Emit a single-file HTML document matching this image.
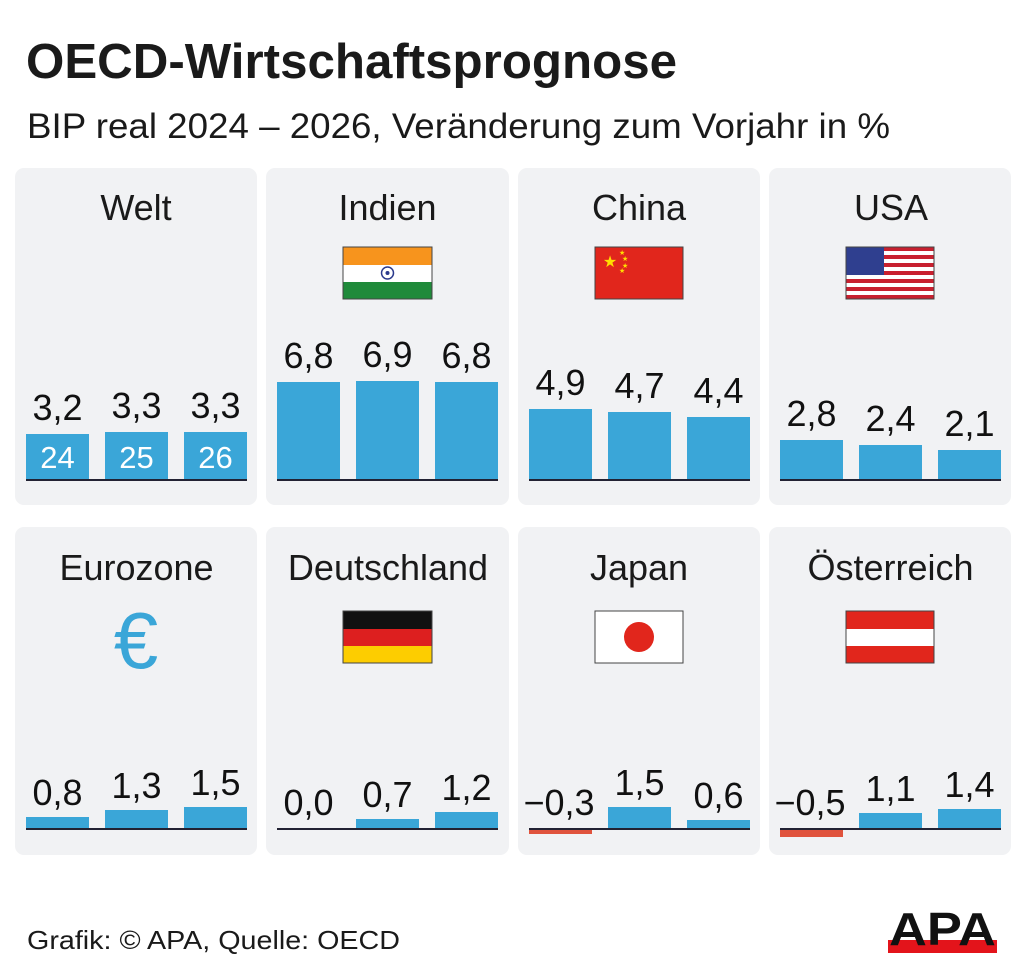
<!DOCTYPE html>
<html><head><meta charset="utf-8"><style>
html,body{margin:0;padding:0;background:#fff;}
svg{display:block;font-family:"Liberation Sans",Arial,sans-serif;}
</style></head><body>
<svg width="1024" height="979" viewBox="0 0 1024 979" xmlns="http://www.w3.org/2000/svg">
<rect width="1024" height="979" fill="#fff"/>
<text x="26" y="78" font-size="49" font-weight="bold" fill="#1a1a1a" textLength="651" lengthAdjust="spacingAndGlyphs">OECD-Wirtschaftsprognose</text>
<text x="27" y="138" font-size="35" fill="#1a1a1a" textLength="863" lengthAdjust="spacingAndGlyphs">BIP real 2024 – 2026, Veränderung zum Vorjahr in %</text>

<g fill="#f1f2f4">
<rect x="15" y="168" width="242" height="337" rx="9"/>
<rect x="266" y="168" width="243" height="337" rx="9"/>
<rect x="518" y="168" width="242" height="337" rx="9"/>
<rect x="769" y="168" width="242" height="337" rx="9"/>
<rect x="15" y="527" width="242" height="328" rx="9"/>
<rect x="266" y="527" width="243" height="328" rx="9"/>
<rect x="518" y="527" width="242" height="328" rx="9"/>
<rect x="769" y="527" width="242" height="328" rx="9"/>
</g>

<g font-size="36" fill="#1a1a1a" text-anchor="middle">
<text x="136" y="220">Welt</text>
<text x="387.5" y="220">Indien</text>
<text x="639" y="220">China</text>
<text x="891" y="220">USA</text>
<text x="136.5" y="580">Eurozone</text>
<text x="388" y="580">Deutschland</text>
<text x="639" y="580">Japan</text>
<text x="890.5" y="580">Österreich</text>
</g>

<g>
<rect x="343" y="247" width="89" height="18" fill="#f7941d"/>
<rect x="343" y="265" width="89" height="17" fill="#fff"/>
<rect x="343" y="282" width="89" height="17" fill="#1f8a3a"/>
<circle cx="387.5" cy="273" r="6" fill="none" stroke="#2b3a8c" stroke-width="1.5"/>
<circle cx="387.5" cy="273" r="2" fill="#2b3a8c"/>
<rect x="343" y="247" width="89" height="52" fill="none" stroke="#444" stroke-width="1"/>

<rect x="595" y="247" width="88" height="52" fill="#e1261c"/>
<text x="610" y="267" font-size="16" fill="#ffde00" text-anchor="middle">★</text>
<g font-size="7" fill="#ffde00"><text x="619" y="255">★</text><text x="622" y="261">★</text><text x="622" y="268">★</text><text x="619" y="273">★</text></g>
<rect x="595" y="247" width="88" height="52" fill="none" stroke="#444" stroke-width="1"/>

<g>
<rect x="846" y="247" width="88" height="52" fill="#fff"/>
<g fill="#c8202f">
<rect x="846" y="247" width="88" height="4"/><rect x="846" y="255" width="88" height="4"/><rect x="846" y="263" width="88" height="4"/><rect x="846" y="271" width="88" height="4"/><rect x="846" y="279" width="88" height="4"/><rect x="846" y="287" width="88" height="4"/><rect x="846" y="295" width="88" height="4"/>
</g>
<rect x="846" y="247" width="38" height="28" fill="#2f3f8f"/>
<rect x="846" y="247" width="88" height="52" fill="none" stroke="#444" stroke-width="1"/>
</g>

<text x="136" y="668" font-size="80" fill="#3aa6d8" text-anchor="middle">€</text>

<rect x="343" y="611" width="89" height="18" fill="#111"/>
<rect x="343" y="629" width="89" height="17" fill="#dd1f1f"/>
<rect x="343" y="646" width="89" height="17" fill="#fdcd00"/>
<rect x="343" y="611" width="89" height="52" fill="none" stroke="#444" stroke-width="1"/>

<rect x="595" y="611" width="88" height="52" fill="#fff" stroke="#444" stroke-width="1"/>
<circle cx="639" cy="637" r="15" fill="#e1261c"/>

<rect x="846" y="611" width="88" height="18" fill="#e1261c"/>
<rect x="846" y="629" width="88" height="17" fill="#fff"/>
<rect x="846" y="646" width="88" height="17" fill="#e1261c"/>
<rect x="846" y="611" width="88" height="52" fill="none" stroke="#444" stroke-width="1"/>
</g>

<g fill="#3aa6d8">
<rect x="26" y="434" width="63" height="46"/><rect x="105" y="432" width="63" height="48"/><rect x="184" y="432" width="63" height="48"/>
<rect x="277" y="382" width="63" height="98"/><rect x="356" y="381" width="63" height="99"/><rect x="435" y="382" width="63" height="98"/>
<rect x="529" y="409" width="63" height="71"/><rect x="608" y="412" width="63" height="68"/><rect x="687" y="417" width="63" height="63"/>
<rect x="780" y="440" width="63" height="40"/><rect x="859" y="445" width="63" height="35"/><rect x="938" y="450" width="63" height="30"/>
</g>
<g fill="#fff" font-size="31" text-anchor="middle">
<text x="57.5" y="468">24</text><text x="136.5" y="468">25</text><text x="215.5" y="468">26</text>
</g>
<g stroke="#223" stroke-width="2">
<line x1="26" y1="480" x2="247" y2="480"/><line x1="277" y1="480" x2="498" y2="480"/><line x1="529" y1="480" x2="750" y2="480"/><line x1="780" y1="480" x2="1001" y2="480"/>
</g>
<g font-size="36" fill="#111" text-anchor="middle">
<text x="57.5" y="420">3,2</text><text x="136.5" y="418">3,3</text><text x="215.5" y="418">3,3</text>
<text x="308.5" y="368">6,8</text><text x="387.5" y="367">6,9</text><text x="466.5" y="368">6,8</text>
<text x="560.5" y="395">4,9</text><text x="639.5" y="398">4,7</text><text x="718.5" y="403">4,4</text>
<text x="811.5" y="426">2,8</text><text x="890.5" y="431">2,4</text><text x="969.5" y="436">2,1</text>
</g>

<g fill="#3aa6d8">
<rect x="26" y="817" width="63" height="12"/><rect x="105" y="810" width="63" height="19"/><rect x="184" y="807" width="63" height="22"/>
<rect x="356" y="819" width="63" height="10"/><rect x="435" y="812" width="63" height="17"/>
<rect x="608" y="807" width="63" height="22"/><rect x="687" y="820" width="63" height="9"/>
<rect x="859" y="813" width="63" height="16"/><rect x="938" y="809" width="63" height="20"/>
</g>
<g fill="#e0533d">
<rect x="529" y="829" width="63" height="5"/>
<rect x="780" y="829" width="63" height="8"/>
</g>
<g stroke="#223" stroke-width="2">
<line x1="26" y1="829" x2="247" y2="829"/><line x1="277" y1="829" x2="498" y2="829"/><line x1="529" y1="829" x2="750" y2="829"/><line x1="780" y1="829" x2="1001" y2="829"/>
</g>
<g font-size="36" fill="#111" text-anchor="middle">
<text x="57.5" y="805">0,8</text><text x="136.5" y="798">1,3</text><text x="215.5" y="795">1,5</text>
<text x="308.5" y="815">0,0</text><text x="387.5" y="807">0,7</text><text x="466.5" y="800">1,2</text>
<text x="559" y="815">−0,3</text><text x="639.5" y="795">1,5</text><text x="718.5" y="808">0,6</text>
<text x="810" y="815">−0,5</text><text x="890.5" y="801">1,1</text><text x="969.5" y="797">1,4</text>
</g>

<text x="27" y="949" font-size="26" fill="#1a1a1a" textLength="373" lengthAdjust="spacingAndGlyphs">Grafik: © APA, Quelle: OECD</text>
<g>
<rect x="888" y="940" width="109" height="13" fill="#e3141b"/>
<text x="889" y="945" font-size="46" font-weight="bold" fill="#111" textLength="107" lengthAdjust="spacingAndGlyphs">APA</text>
</g>
</svg>
</body></html>
